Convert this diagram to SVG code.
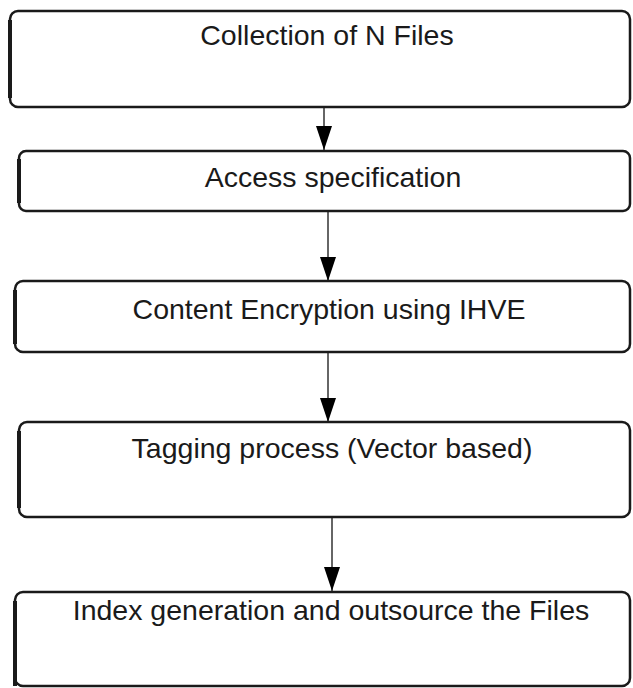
<svg xmlns="http://www.w3.org/2000/svg" width="633" height="688" viewBox="0 0 633 688">
<style>
.box{fill:#fff;stroke:#1a1a1a;stroke-width:2.5}
.edge{fill:none;stroke:#1a1a1a;stroke-width:4}
.lbl{font-family:"Liberation Sans",Arial,sans-serif;font-size:28.5px;fill:#1a1a1a;text-anchor:middle}
.conn{stroke:#333;stroke-width:1.5;fill:none}
</style>
<defs>
<marker id="ah" markerWidth="24" markerHeight="16" refX="24" refY="8" orient="auto" markerUnits="userSpaceOnUse">
<path d="M0,0 L24,8 L0,16 Z" fill="#000"/>
</marker>
</defs>
<rect width="633" height="688" fill="#fff"/>
<g id="connectors">
<line class="conn" x1="324" y1="107" x2="324" y2="150" marker-end="url(#ah)"/>
<line class="conn" x1="328" y1="211" x2="328" y2="281" marker-end="url(#ah)"/>
<line class="conn" x1="328" y1="352" x2="328" y2="422" marker-end="url(#ah)"/>
<line class="conn" x1="332" y1="517" x2="332" y2="591" marker-end="url(#ah)"/>
</g>
<g id="n1">
<rect class="box" x="10" y="11" width="620" height="96" rx="8"/>
<path class="edge" d="M10,20 V98"/>
<text class="lbl" x="327" y="45">Collection of N Files</text>
</g>
<g id="n2">
<rect class="box" x="19" y="151" width="611" height="60" rx="7"/>
<path class="edge" d="M19,159 V203"/>
<text class="lbl" x="333" y="187">Access specification</text>
</g>
<g id="n3">
<rect class="box" x="15" y="281" width="615" height="71" rx="8"/>
<path class="edge" d="M15,290 V344"/>
<text class="lbl" x="329" y="319">Content Encryption using IHVE</text>
</g>
<g id="n4">
<rect class="box" x="19" y="422" width="611" height="95" rx="8"/>
<path class="edge" d="M19,431 V508"/>
<text class="lbl" x="332" y="458">Tagging process (Vector based)</text>
</g>
<g id="n5">
<rect class="box" x="15" y="592" width="615" height="94" rx="8"/>
<path class="edge" d="M15,601 V686"/>
<text class="lbl" x="331" y="620">Index generation and outsource the Files</text>
</g>
</svg>
